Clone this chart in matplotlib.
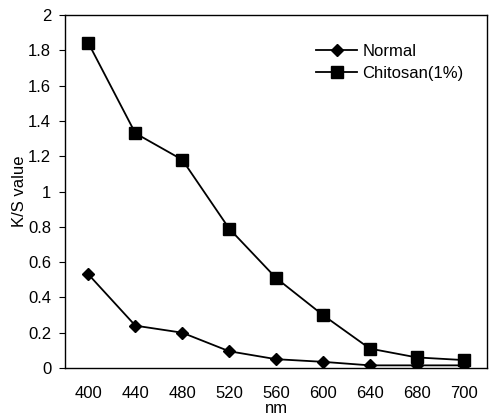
import matplotlib
matplotlib.use("Agg")
import matplotlib.pyplot as plt

categories = ["400", "440", "480", "520", "560", "600", "640", "680", "700"]
normal = [0.53, 0.24, 0.20, 0.095, 0.05, 0.035, 0.015, 0.015, 0.015]
chitosan = [1.84, 1.33, 1.18, 0.79, 0.51, 0.30, 0.11, 0.06, 0.045]
yticks = [0, 0.2, 0.4, 0.6, 0.8, 1, 1.2, 1.4, 1.6, 1.8, 2]
ytick_labels = ["0", "0.2", "0.4", "0.6", "0.8", "1", "1.2", "1.4", "1.6", "1.8", "2"]

plt.rcParams['font.family'] = ['Liberation Sans', 'DejaVu Sans']
fig = plt.figure(figsize=(4.9, 4.18), dpi=100)
ax = fig.add_axes([0.1327, 0.1196, 0.8613, 0.8445])
x = list(range(len(categories)))
ax.plot(x, normal, color='black', marker='D', markersize=6, linewidth=1.3, label='Normal')
ax.plot(x, chitosan, color='black', marker='s', markersize=8, linewidth=1.3, label='Chitosan(1%)')
ax.set_xlim(-0.5, len(categories) - 0.5)
ax.set_ylim(0, 2)
ax.set_xticks(x)
ax.set_xticklabels(categories, fontsize=12)
ax.set_yticks(yticks)
ax.set_yticklabels(ytick_labels, fontsize=12)
ax.tick_params(axis='x', length=0, pad=13)
ax.tick_params(axis='y', length=4, direction='out', width=0.8, pad=6)
ax.set_xlabel('nm', fontsize=12, labelpad=0)
ax.set_ylabel('K/S value', fontsize=12, labelpad=1)
for s in ax.spines.values():
    s.set_linewidth(1.0)
ax.legend(loc='upper right', bbox_to_anchor=(0.98, 0.96), frameon=False, fontsize=12,
          handlelength=2.5, labelspacing=0.4, handletextpad=0.3)
fig.savefig('out.png', dpi=100)
